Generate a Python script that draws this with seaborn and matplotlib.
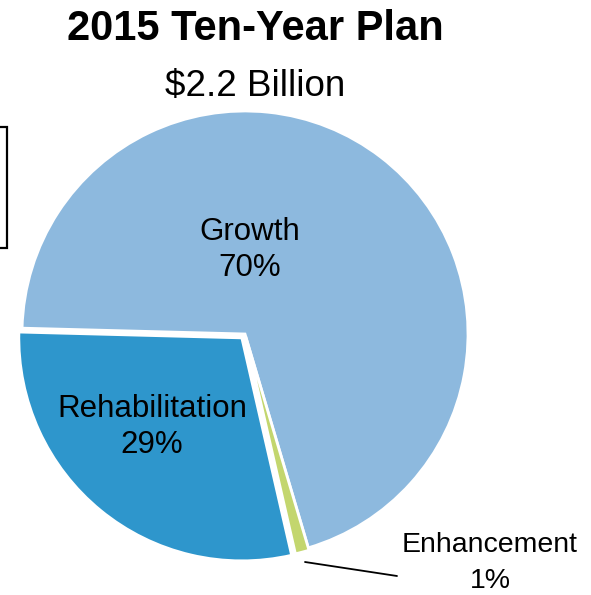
import matplotlib
matplotlib.use("Agg")
import matplotlib.pyplot as plt
import seaborn as sns
from matplotlib.patches import Rectangle

sns.set_theme(style="white")
plt.rcParams["font.family"] = ["Liberation Sans", "DejaVu Sans"]

categories = ["Growth", "Enhancement", "Rehabilitation"]
values = [70, 1, 29]
colors = ["#8DB9DE", "#C3D66E", "#2E96CC"]

W, H = 591, 595
fig = plt.figure(figsize=(W / 100, H / 100), dpi=100)
ax = fig.add_axes([0, 0, 1, 1])

# axes are in pixel units, so the offsets are in pixels too
explode = [0.0, 2.5, 5.0]
cx, cy, r = 245, H - 334, 223
wedges, _ = ax.pie(
    values,
    colors=colors,
    explode=explode,
    startangle=178.5,
    counterclock=False,
    radius=r,
    center=(cx, cy),
    wedgeprops=dict(edgecolor="white", linewidth=2.0),
    frame=True,
)
ax.set_xlim(0, W)
ax.set_ylim(0, H)
ax.set_aspect("equal")
ax.axis("off")

total = sum(values)
pct = {c: f"{round(v / total * 100):.0f}%" for c, v in zip(categories, values)}

ax.text(255, H - 29, "2015 Ten-Year Plan", ha="center", va="center",
        fontsize=30, fontweight="bold", color="black")
ax.text(255, H - 86, "$2.2 Billion", ha="center", va="center",
        fontsize=26.5, color="black")

ax.text(250, H - 250, f"Growth\n{pct['Growth']}", ha="center", va="center",
        fontsize=22.5, linespacing=1.25, color="black")
ax.text(152, H - 427, f"Rehabilitation\n{pct['Rehabilitation']}", ha="center",
        va="center", fontsize=22.5, linespacing=1.22, color="black")
ax.text(490, H - 563, f"Enhancement\n{pct['Enhancement']}", ha="center",
        va="center", fontsize=20.5, linespacing=1.5, color="black")

# leader line for the small slice
ax.plot([305, 397], [H - 562, H - 576], color="black", linewidth=1.3)

# edge of the framed box at the left margin
ax.add_patch(Rectangle((-40, H - 248), 47, 121, fill=False,
                       edgecolor="black", linewidth=1.6, clip_on=False))

fig.savefig("out.png", dpi=100, facecolor="white")
